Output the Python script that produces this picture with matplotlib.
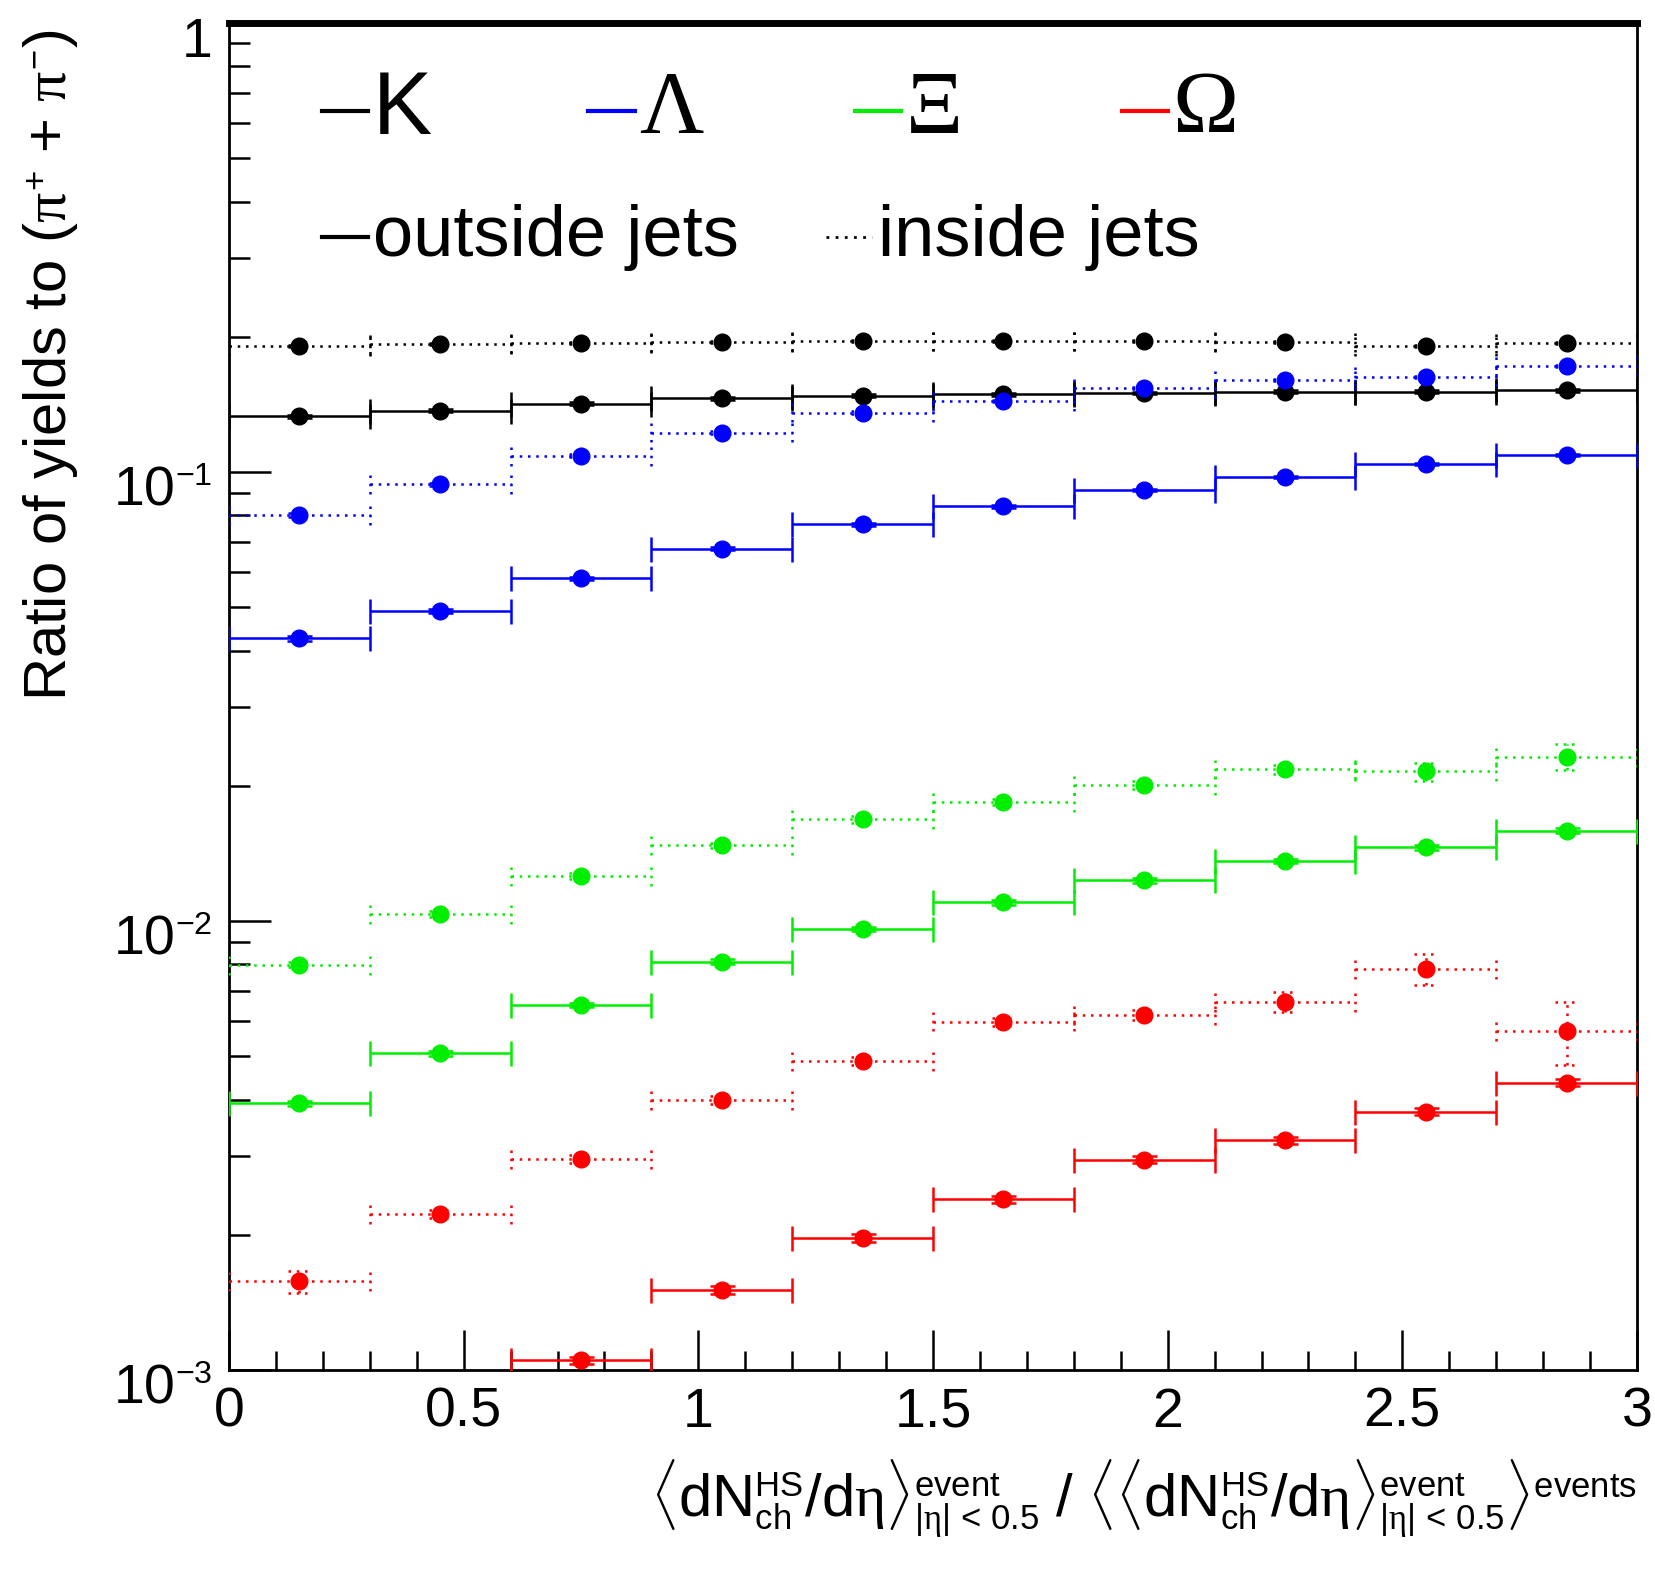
import matplotlib
matplotlib.use('Agg')
import matplotlib.pyplot as plt
import matplotlib._mathtext as mathtext_internal
import numpy as np
from matplotlib.ticker import LogLocator, FixedLocator, FixedFormatter, MultipleLocator, NullFormatter
from matplotlib.transforms import ScaledTranslation

plt.rcParams['font.family'] = ['Liberation Sans', 'DejaVu Sans']
plt.rcParams['mathtext.fontset'] = 'custom'
plt.rcParams['mathtext.rm'] = 'Liberation Sans'
plt.rcParams['mathtext.it'] = 'Liberation Serif'
plt.rcParams['mathtext.bf'] = 'Liberation Sans:bold'
# ROOT draws sub/superscripts smaller than mathtext does
mathtext_internal.SHRINK_FACTOR = 0.58

# bin centres, half width 0.15
x = [0.15, 0.45, 0.75, 1.05, 1.35, 1.65, 1.95, 2.25, 2.55, 2.85]
half_width = 0.15

k_in = [0.191, 0.193, 0.194, 0.195, 0.196, 0.196, 0.196, 0.195, 0.191, 0.194]
k_out = [0.133, 0.137, 0.142, 0.146, 0.148, 0.149, 0.150, 0.151, 0.151, 0.152]
lam_in = [0.0802, 0.0939, 0.1086, 0.1224, 0.1356, 0.1439, 0.1536, 0.1605, 0.1631, 0.1721]
lam_out = [0.0426, 0.0490, 0.0580, 0.0675, 0.0764, 0.0838, 0.0913, 0.0975, 0.1040, 0.1092]
xi_in = [0.00799, 0.01036, 0.0126, 0.01474, 0.01687, 0.0184, 0.02006, 0.02176, 0.02153, 0.02322]
xi_out = [0.00393, 0.00507, 0.0065, 0.00812, 0.0096, 0.0110, 0.01233, 0.01359, 0.01458, 0.0159]
om_in = [0.001575, 0.002227, 0.00295, 0.0040, 0.00488, 0.00597, 0.00617, 0.00661, 0.00782, 0.00568]
om_out = [np.nan, np.nan, 0.00105, 0.00151, 0.00197, 0.0024, 0.00294, 0.00325, 0.00376, 0.00436]

# statistical errors (absolute)
k_in_err = [0.001] * 10
k_out_err = [0.001] * 10
lam_in_err = [0.0008] * 10
lam_out_err = [0.0005] * 10
xi_in_err = [0.0001, 0.00015, 0.0002, 0.0002, 0.0003, 0.0003, 0.0004, 0.0005, 0.0010, 0.00155]
xi_out_err = [0.00005, 0.00006, 0.00008, 0.0001, 0.0001, 0.00012, 0.00015, 0.00015, 0.0002, 0.0002]
om_in_err = [0.00009, 0.00005, 0.00006, 0.00008, 0.0001, 0.00012, 0.00015, 0.00034, 0.00062, 0.00091]
om_out_err = [0.0, 0.0, 0.00002, 0.00003, 0.00004, 0.00004, 0.00005, 0.00006, 0.00007, 0.00008]

dots = (0, (1, 2.3))

fig = plt.figure(figsize=(16.55, 15.72), dpi=100)
ax = fig.add_axes([0.1384, 0.1285, 0.8507, 0.8569])


def draw(y, yerr, color, dotted):
    y = np.asarray(y)
    yerr = np.asarray(yerr)
    xs = np.asarray(x)
    eb = ax.errorbar(xs, y, xerr=half_width, yerr=yerr, fmt='o', color=color,
                     ms=12, lw=1.8, capsize=0 if dotted else 9, capthick=1.8,
                     zorder=3)
    if dotted:
        for coll in eb[2]:
            coll.set_linestyle(dots)
        edges = np.concatenate([xs - half_width, xs + half_width])
        yy = np.concatenate([y, y])
        ax.vlines(edges, yy * 10 ** -0.022, yy * 10 ** 0.022, colors=color,
                  lw=1.8, linestyles=dots, zorder=3)
        ax.hlines(np.concatenate([y + yerr, y - yerr]),
                  np.concatenate([xs, xs]) - 0.025, np.concatenate([xs, xs]) + 0.025,
                  colors=color, lw=1.8, linestyles=dots, zorder=3)


draw(k_in, k_in_err, 'black', True)
draw(k_out, k_out_err, 'black', False)
draw(lam_in, lam_in_err, 'blue', True)
draw(lam_out, lam_out_err, 'blue', False)
draw(xi_in, xi_in_err, '#00ee00', True)
draw(xi_out, xi_out_err, '#00ee00', False)
draw(om_in, om_in_err, 'red', True)
draw(om_out, om_out_err, 'red', False)

ax.set_xlim(0, 3)
ax.set_yscale('log')
ax.set_ylim(1e-3, 1)

ax.xaxis.set_major_locator(MultipleLocator(0.5))
ax.xaxis.set_minor_locator(MultipleLocator(0.1))
ax.xaxis.set_major_formatter(matplotlib.ticker.FuncFormatter(lambda v, p: '%g' % v))
ax.yaxis.set_major_locator(FixedLocator([1e-3, 1e-2, 1e-1, 1]))
ax.yaxis.set_major_formatter(FixedFormatter([r'$\mathregular{10^{-3}}$', r'$\mathregular{10^{-2}}$',
                                             r'$\mathregular{10^{-1}}$', '1']))
ax.yaxis.set_minor_locator(LogLocator(base=10, subs=np.arange(2, 10), numticks=20))
ax.yaxis.set_minor_formatter(NullFormatter())

ax.tick_params(axis='both', which='both', direction='in', top=False, right=False, width=1.8)
ax.tick_params(axis='y', which='major', length=30, pad=12, labelsize=40)
ax.tick_params(axis='y', which='minor', length=15)
ax.tick_params(axis='x', which='major', length=29, pad=12, labelsize=40)
ax.tick_params(axis='x', which='minor', length=14)

off = ScaledTranslation(0, -10 / 72, fig.dpi_scale_trans)
for tl in ax.get_yticklabels():
    tl.set_transform(tl.get_transform() + off)

for s in ['left', 'bottom', 'right']:
    ax.spines[s].set_linewidth(2.0)
ax.spines['top'].set_linewidth(5)

ax.set_ylabel(r'Ratio of yields to ($\pi^{+}$ + $\pi^{-}$)', fontsize=43, loc='top', va='center')
ax.yaxis.set_label_coords(-0.127, 0.995)

ax.set_xlabel(r'$\langle\mathrm{dN}^{\mathrm{HS}}_{\mathrm{ch}}/\mathrm{d}\eta\rangle^{\mathrm{event}}_{|\eta|\,{<}\,0.5}'
              r'\ /\ \langle\langle\mathrm{dN}^{\mathrm{HS}}_{\mathrm{ch}}/\mathrm{d}\eta\rangle'
              r'^{\mathrm{event}}_{|\eta|\,{<}\,0.5}\rangle^{\mathrm{events}}$',
              fontsize=43, loc='right', labelpad=14)

# legend, drawn by hand in ROOT style
names = ['K', 'Λ', 'Ξ', 'Ω']
colors = ['black', 'blue', '#00ee00', 'red']
starts = [0.066, 0.255, 0.4446, 0.6342]
for name, col, x0 in zip(names, colors, starts):
    ax.plot([x0, x0 + 0.033], [0.9347, 0.9347], color=col, lw=3, transform=ax.transAxes)
    fam = 'Liberation Sans' if name == 'K' else 'Liberation Serif'
    ax.text(x0 + 0.036, 0.9347, name, fontsize=64, family=fam, va='center', ha='left',
            transform=ax.transAxes)

ax.plot([0.066, 0.099], [0.841, 0.841], color='black', lw=3, transform=ax.transAxes)
ax.text(0.102, 0.841, 'outside jets', fontsize=52, va='center', ha='left', transform=ax.transAxes)
ax.plot([0.424, 0.457], [0.841, 0.841], color='black', lw=2, ls=dots, transform=ax.transAxes)
ax.text(0.461, 0.841, 'inside jets', fontsize=52, va='center', ha='left', transform=ax.transAxes)

fig.savefig('out.png', dpi=100)
